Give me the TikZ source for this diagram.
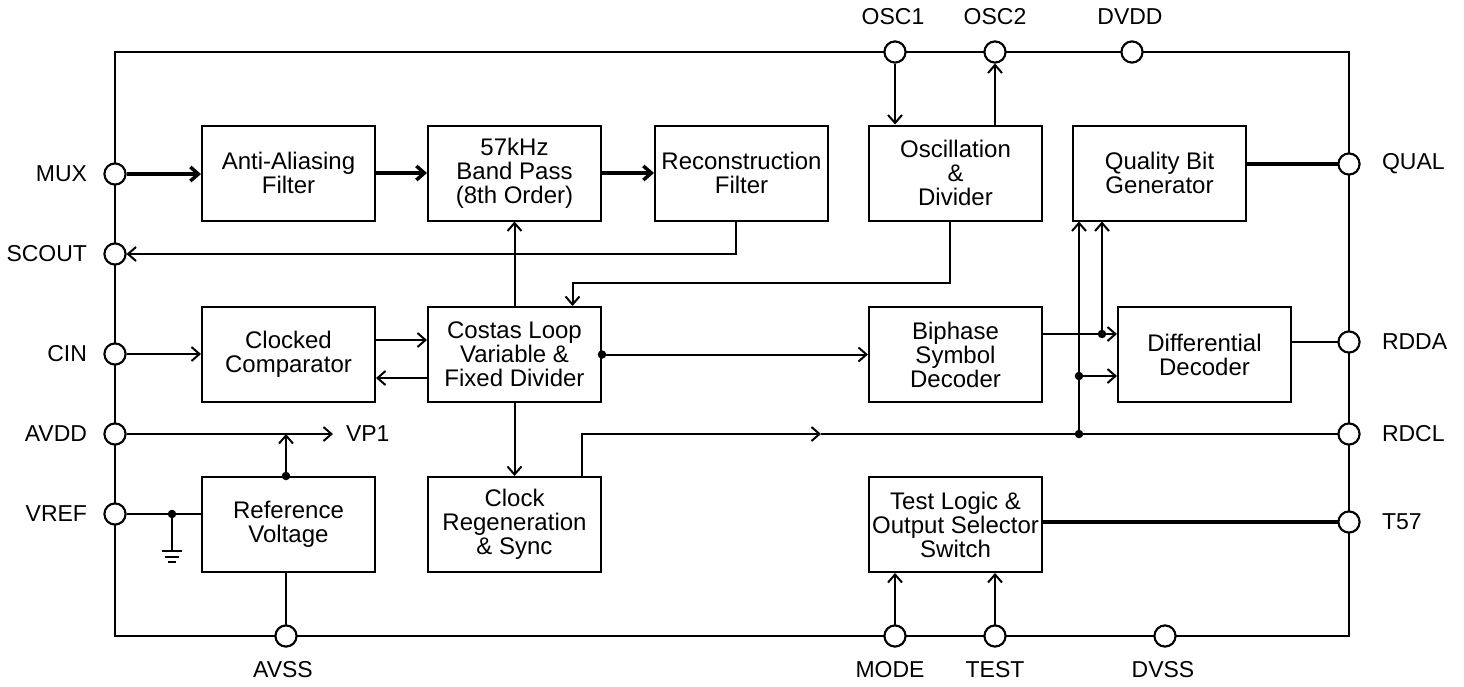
\documentclass[tikz,border=0pt]{standalone}
\usepackage{fontspec}
\setmainfont{Liberation Sans}
\usetikzlibrary{arrows.meta,calc}
\newcommand{\blkfont}{\fontsize{24}{24}\selectfont}
\newcommand{\pinfont}{\fontsize{23}{23}\selectfont}
\begin{document}
\begin{tikzpicture}[x=1pt,y=-1pt,
  line width=2pt,
  >={Straight Barb[length=8pt,width=14pt]},
  blk/.style={draw, line width=2pt, minimum width=173pt, minimum height=95pt, inner sep=0pt, align=center, font=\blkfont},
  pin/.style={circle, draw, fill=white, line width=2pt, minimum size=21pt, inner sep=0pt},
  lbl/.style={font=\pinfont, inner sep=0pt},
  bus/.style={line width=3.5pt},
  dotn/.style={circle, fill=black, minimum size=8.5pt, inner sep=0pt}
]
\useasboundingbox (0,0) rectangle (1464,686);
% frame
\draw (115,52) rectangle (1349,636);
% blocks
\node[blk] (aa)  at (288.5,173) {Anti-Aliasing\\Filter};
\node[blk] (bp)  at (514.5,173) {57kHz\\Band Pass\\(8th Order)};
\node[blk] (rf)  at (741.5,173) {Reconstruction\\Filter};
\node[blk] (osc) at (955.5,173) {Oscillation\\\&\\Divider};
\node[blk] (qb)  at (1159.5,173) {Quality Bit\\Generator};
\node[blk] (cc)  at (288.5,354.5) {Clocked\\Comparator};
\node[blk] (cl)  at (514.5,354.5) {Costas Loop\\Variable \&\\Fixed Divider};
\node[blk] (bs)  at (955.5,354.5) {Biphase\\Symbol\\Decoder};
\node[blk] (dd)  at (1204.5,354.5) {Differential\\Decoder};
\node[blk] (rv)  at (288.5,524.5) {Reference\\Voltage};
\node[blk] (cr)  at (514.5,524.5) {Clock\\Regeneration\\\& Sync};
\node[blk] (tl)  at (955.5,524.5) {Test Logic \&\\Output Selector\\Switch};
% pins
\node[pin] (mux)   at (115,174) {};
\node[pin] (scout) at (115,254) {};
\node[pin] (cin)   at (115,354) {};
\node[pin] (avdd)  at (115,434) {};
\node[pin] (vref)  at (115,514) {};
\node[pin] (osc1)  at (895,52) {};
\node[pin] (osc2)  at (995,52) {};
\node[pin] (dvdd)  at (1132,52) {};
\node[pin] (avss)  at (286,636) {};
\node[pin] (mode)  at (895,636) {};
\node[pin] (test)  at (995,636) {};
\node[pin] (dvss)  at (1165,636) {};
\node[pin] (qual)  at (1349,164) {};
\node[pin] (rdda)  at (1349,342) {};
\node[pin] (rdcl)  at (1349,434) {};
\node[pin] (t57)   at (1349,522) {};
% pin labels
\node[lbl, anchor=east] (lmux) at (88,174) {MUX};
\node[lbl, anchor=east] (lscout) at (88,254) {SCOUT};
\node[lbl, anchor=east] (lcin) at (88,354) {CIN};
\node[lbl, anchor=east] (lavdd) at (88,434) {AVDD};
\node[lbl, anchor=east] (lvref) at (88,514) {VREF};
\node[lbl] (losc1) at (893,17) {OSC1};
\node[lbl] (losc2) at (995,17) {OSC2};
\node[lbl] (ldvdd) at (1130,17) {DVDD};
\node[lbl] (lavss) at (283,670) {AVSS};
\node[lbl] (lmode) at (890,670) {MODE};
\node[lbl] (ltest) at (995,670) {TEST};
\node[lbl] (ldvss) at (1163,670) {DVSS};
\node[lbl, anchor=west] (lqual) at (1381,164) {QUAL};
\node[lbl, anchor=west] (lrdda) at (1381,342) {RDDA};
\node[lbl, anchor=west] (lrdcl) at (1381,434) {RDCL};
\node[lbl, anchor=west] (lt57) at (1381,522) {T57};
\node[lbl, anchor=west, inner sep=0pt] (vp1) at (345,434) {VP1};
% signal path
\draw[bus,->] (mux) -- (mux -| aa.west);
\draw[bus,->] (aa) -- (bp);
\draw[bus,->] (bp) -- (rf);
\draw[->] ([xshift=-6pt]rf.south) |- (scout);
\draw[->] (cl.north) -- (bp.south);
\draw[->] ([xshift=-5.5pt]osc.south) -- ++(0,61) -| ([xshift=58pt]cl.north);
\draw[->] (cin) -- (cin -| cc.west);
\draw[->] ([yshift=14.5pt]cc.east) -- ([yshift=14.5pt]cl.west);
\draw[->] ([yshift=-23.5pt]cl.west) -- ([yshift=-23.5pt]cc.east);
\node[dotn] (dcl) at (cl.east) {};
\draw[->] (cl.east) -- (bs.west);
\draw[->] (cl.south) -- (cr.north);
\coordinate (crt) at ([xshift=67.5pt]cr.north);
\coordinate (mid) at (821,434);
\draw[->] (crt) |- (mid);
\draw (mid) -- (rdcl);
% decoder region
\coordinate (bso) at ([yshift=20.5pt]bs.east);
\draw[->] (bso) -- (bso -| dd.west);
\node[dotn] (d1) at (1102,334) {};
\draw[->] (d1.center) -- (d1 |- qb.south);
\node[dotn] (d3) at (1079,434) {};
\node[dotn] (d2) at (1079,376) {};
\draw[->] (d3.center) -- (d3 |- qb.south);
\draw[->] (d2.center) -- (d2 -| dd.west);
\draw (rdda -| dd.east) -- (rdda);
\draw[bus] (qual -| qb.east) -- (qual);
\draw[bus] (t57 -| tl.east) -- (t57);
\draw[->] (mode) -- (mode |- tl.south);
\draw[->] (test) -- (test |- tl.south);
\draw[->] (osc1) -- (osc1 |- osc.north);
\draw[->] (osc2 |- osc.north) -- (osc2);
% power / reference
\coordinate (vpe) at (333,434);
\draw[->] (avdd) -- (vpe);
\node[dotn] (drv) at ([xshift=-2.5pt]rv.north) {};
\draw[->] (drv.center) -- (drv |- avdd);
\draw (vref) -- (vref -| rv.west);
\node[dotn] (dg) at (172,514) {};
\coordinate (gnd) at (172,551);
\draw (dg.center) -- (gnd);
\draw ([xshift=-10pt]gnd) -- ([xshift=10pt]gnd);
\draw ([xshift=-7pt,yshift=-6pt]gnd) -- ([xshift=7pt,yshift=-6pt]gnd);
\draw ([xshift=-4pt,yshift=-11pt]gnd) -- ([xshift=4pt,yshift=-11pt]gnd);
\draw ([xshift=-2.5pt]rv.south) -- (avss);
% redraw pins on top
\foreach \p in {mux,scout,cin,avdd,vref,osc1,osc2,dvdd,avss,mode,test,dvss,qual,rdda,rdcl,t57}
  \draw[fill=white, line width=2pt] (\p) circle (10.5);
\end{tikzpicture}
\end{document}
